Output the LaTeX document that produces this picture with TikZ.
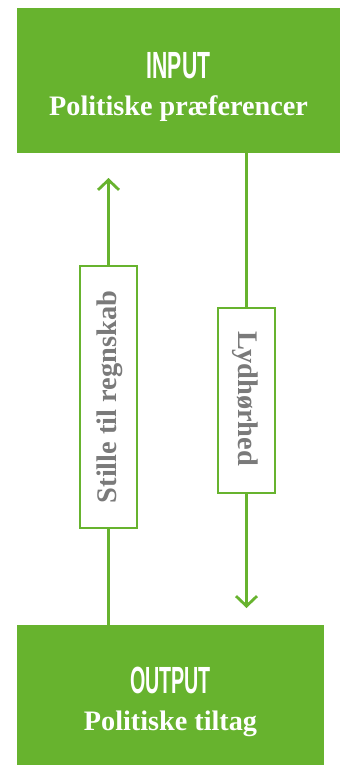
\documentclass[tikz,border=0pt]{standalone}
\usepackage{fontspec}
\setmainfont{Liberation Serif}
\newfontfamily\capsfont{Liberation Sans}
\usetikzlibrary{arrows.meta}
\definecolor{grn}{RGB}{103,179,46}
\definecolor{txtgray}{RGB}{122,122,122}
\begin{document}
\begin{tikzpicture}[x=1bp,y=-1bp,
  greenbox/.style={fill=grn, draw=none, inner sep=0pt},
  headtext/.style={text=white, inner sep=0pt, anchor=base, font=\capsfont\bfseries\fontsize{38}{38}\selectfont},
  subtext/.style={text=white, inner sep=0pt, anchor=base, font=\bfseries\fontsize{28.3}{28.3}\selectfont},
  sidebox/.style={draw=grn, line width=2.6bp, fill=white, inner sep=0pt},
  sidetext/.style={text=txtgray, inner sep=0pt, font=\bfseries\fontsize{28.5}{28.5}\selectfont},
  link/.style={draw=grn, line width=2.8bp},
  arrowlink/.style={link, -{Straight Barb[length=10bp, width=21bp]}}
]
\useasboundingbox (0,0) rectangle (342,765);
% boxes
\node[greenbox, minimum width=323bp, minimum height=145bp] (in) at (178.5,80.5) {};
\node[greenbox, minimum width=307bp, minimum height=140bp] (out) at (170.5,695) {};
\node[headtext] (inhead) at (178.5,78) {\scalebox{0.56}[1]{INPUT}};
\node[subtext] (insub) at (178.5,115) {Politiske præferencer};
\node[headtext] (outhead) at (170.5,693) {\scalebox{0.52}[1]{OUTPUT}};
\node[subtext] (outsub) at (170.5,730) {Politiske tiltag};
% side boxes
\node[sidebox, minimum width=57bp, minimum height=262bp] (lbox) at (108.5,397) {};
\node[sidetext, rotate=90] (ltext) at (110,397) {Stille til regnskab};
\node[sidebox, minimum width=57bp, minimum height=185bp] (rbox) at (246.5,400.5) {};
\node[sidetext, rotate=-90] (rtext) at (245,399) {Lydhørhed};
% connectors
\coordinate (ltip) at (108.5,178);
\coordinate (rtip) at (246.5,608);
\draw[link] (lbox.south |- out.north) -- (lbox.south);
\draw[arrowlink] (lbox.north) -- (ltip);
\draw[link] (rbox.north |- in.south) -- (rbox.north);
\draw[arrowlink] (rbox.south) -- (rtip);
\end{tikzpicture}
\end{document}
